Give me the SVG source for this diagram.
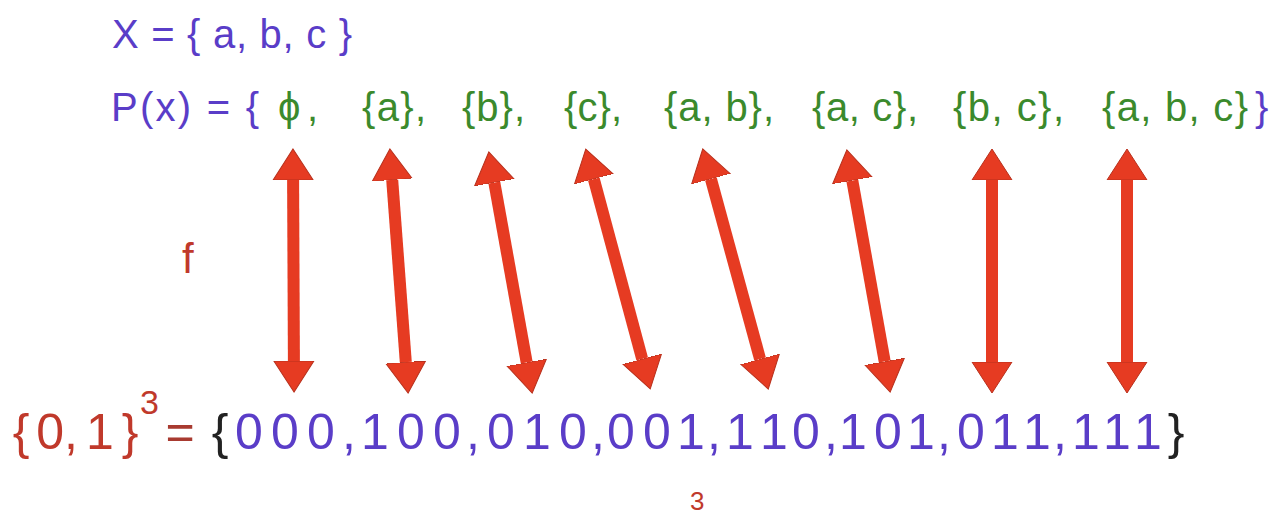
<svg xmlns="http://www.w3.org/2000/svg" width="1280" height="517" viewBox="0 0 1280 517">
<defs>
<style>
text{font-family:"Liberation Sans","DejaVu Sans",sans-serif;}
.pu{fill:#5a3dc8;}
.gr{fill:#3b8a2c;}
.rd{fill:#c0392b;}
.bk{fill:#222;}
.t1{font-size:40px;}
.t2{font-size:40px;}
.t3{font-size:50px;text-anchor:middle;}
.arr{stroke:#e63b22;stroke-width:12;fill:none;marker-start:url(#ah);marker-end:url(#ah);}
</style>
<marker id="ah" markerUnits="userSpaceOnUse" markerWidth="32" markerHeight="42" viewBox="0 -21 32 42" refX="0" refY="0" orient="auto-start-reverse">
<path d="M0,-20 L31,0 L0,20 Z" fill="#e63b22" stroke="#b8301c" stroke-width="1"/>
</marker>
</defs>
<rect width="1280" height="517" fill="#fff"/>

<g id="setX">
<text class="t1 pu" x="112" y="48" textLength="240">X = { a, b, c }</text>
</g>

<g id="powerset">
<text class="t2 pu" x="111" y="121" textLength="148">P(x) = {</text>
<text class="t2 gr" x="278" y="121" textLength="40">ϕ,</text>
<text class="t2 gr" x="362" y="121" textLength="64">{a},</text>
<text class="t2 gr" x="462" y="121" textLength="63">{b},</text>
<text class="t2 gr" x="564" y="121" textLength="58">{c},</text>
<text class="t2 gr" x="664" y="121" textLength="110">{a, b},</text>
<text class="t2 gr" x="812" y="121" textLength="106">{a, c},</text>
<text class="t2 gr" x="953" y="121" textLength="111">{b, c},</text>
<text class="t2 gr" x="1102" y="121" textLength="146">{a, b, c}</text>
<text class="t2 pu" x="1255" y="121">}</text>
</g>

<g id="label-f">
<text class="rd" x="182" y="273" font-size="42">f</text>
</g>

<g id="connectors">
<line class="arr" x1="293.1" y1="180" x2="293.9" y2="361"/>
<line class="arr" x1="392.2" y1="179.9" x2="405.8" y2="362.1"/>
<line class="arr" x1="494.3" y1="182.5" x2="526.7" y2="362.5"/>
<line class="arr" x1="593.8" y1="179" x2="642.2" y2="359"/>
<line class="arr" x1="710.9" y1="178.9" x2="760.1" y2="359.1"/>
<line class="arr" x1="852.3" y1="180.5" x2="884.7" y2="361.5"/>
<line class="arr" x1="992" y1="180" x2="992" y2="362"/>
<line class="arr" x1="1127" y1="180" x2="1127" y2="362"/>
</g>

<g id="cube">
<text class="t3 rd" x="21" y="449">{</text>
<text class="t3 rd" x="57" y="449">0,</text>
<text class="t3 rd" x="100" y="449">1</text>
<text class="t3 rd" x="130" y="449">}</text>
<text class="rd" x="140" y="414" font-size="34">3</text>
<text class="t3" x="180" y="449" fill="#a83a30">=</text>
<text class="t3 bk" x="220" y="449">{</text>
<text class="t3 pu" x="249 285 321" y="449">000</text>
<text class="t3 pu" x="349" y="449">,</text>
<text class="t3 pu" x="375 411 447" y="449">100</text>
<text class="t3 pu" x="473" y="449">,</text>
<text class="t3 pu" x="501 537 573" y="449">010</text>
<text class="t3 pu" x="598" y="449">,</text>
<text class="t3 pu" x="621 657 691" y="449">001</text>
<text class="t3 pu" x="714" y="449">,</text>
<text class="t3 pu" x="740 774 806" y="449">110</text>
<text class="t3 pu" x="831" y="449">,</text>
<text class="t3 pu" x="853 888 921" y="449">101</text>
<text class="t3 pu" x="944" y="449">,</text>
<text class="t3 pu" x="971 1005 1037" y="449">011</text>
<text class="t3 pu" x="1060" y="449">,</text>
<text class="t3 pu" x="1086 1117 1148" y="449">111</text>
<text class="t3 bk" x="1176" y="449">}</text>
</g>

<g id="note-3">
<text class="rd" x="690" y="510" font-size="26">3</text>
</g>
</svg>
